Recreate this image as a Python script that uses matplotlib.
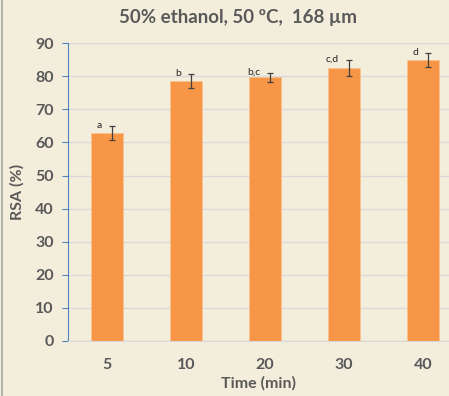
import matplotlib.pyplot as plt
import numpy as np

times = ['5', '10', '20', '30', '40']
rsa = [62.8, 78.6, 79.7, 82.6, 84.9]
err = [2.2, 2.1, 1.4, 2.4, 2.1]
letters = ['a', 'b', 'b,c', 'c,d', 'd']

plt.rcParams['font.family'] = ['Lato', 'DejaVu Sans']
grey = '#595959'
bg = '#F3EEDC'

fig = plt.figure(figsize=(4.49, 3.96), dpi=100, facecolor=bg)
ax = fig.add_axes([0.151, 0.139, 0.849, 0.752], facecolor=bg)

x = np.arange(len(times))
ax.bar(x, rsa, width=0.4, color='#F79646', edgecolor='#FAC090', linewidth=0.6, zorder=3)
ax.errorbar(x + 0.06, rsa, yerr=err, fmt='none', ecolor='#404040', elinewidth=0.9,
            capsize=2, capthick=0.9, zorder=4)
for xi, v, e, lab in zip(x, rsa, err, letters):
    ax.text(xi - 0.06, v + e - 1.2, lab, ha='right', va='bottom', fontsize=7.5,
            color='#262626', zorder=5)

ax.set_xlim(-0.494, 4.33)
ax.set_ylim(0, 90)
ax.set_yticks(range(0, 91, 10))
ax.set_xticks(x)
ax.set_xticklabels(times)
ax.yaxis.grid(True, color='#D9D9D9', linewidth=1, zorder=0)
ax.set_axisbelow(True)

for s in ['top', 'right']:
    ax.spines[s].set_visible(False)
ax.spines['left'].set_color('#4F81BD')
ax.spines['bottom'].set_color('#D9D9D9')
ax.tick_params(axis='y', color='#4F81BD', length=4, labelsize=11.5, labelcolor=grey, pad=6)
ax.tick_params(axis='x', length=0, labelsize=11.5, labelcolor=grey, pad=12)
for t in ax.get_xticklabels() + ax.get_yticklabels():
    t.set_fontweight('bold')

ax.set_xlabel('Time (min)', fontsize=11.5, fontweight='bold', color=grey, labelpad=3)
ax.set_ylabel('RSA (%)', fontsize=11.5, fontweight='bold', color=grey, labelpad=8)
fig.text(0.53, 0.955, '50% ethanol, 50 ºC,  168 µm', ha='center', va='center',
         fontsize=13.5, fontweight='bold', color=grey)

fig.add_artist(plt.Line2D([0.005, 0.005], [0, 1], color='#A6A6A6', linewidth=1.2,
                          transform=fig.transFigure))

fig.savefig('out.png', dpi=100, facecolor=bg)
